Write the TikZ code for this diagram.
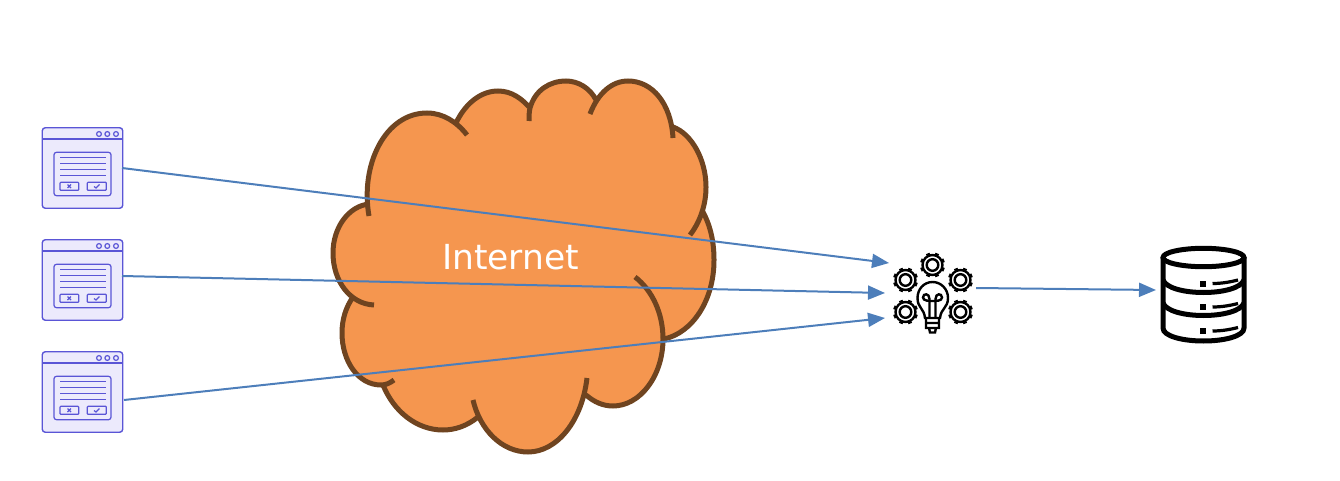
\documentclass[tikz,border=0pt]{standalone}
\usepackage{fontspec}
\setmainfont{DejaVu Sans}
\usetikzlibrary{arrows.meta,positioning,calc}
\definecolor{ink}{HTML}{000000}
\definecolor{cloudfill}{HTML}{F5964F}
\definecolor{cloudline}{HTML}{6F4420}
\definecolor{winfill}{HTML}{ECEAFC}
\definecolor{winline}{HTML}{5A55D6}
\definecolor{flow}{HTML}{4D7EBA}
% outline of the cloud, #1 joins the lobes (-- for the fill, empty for the stroke)
\newcommand{\cloudlobes}[1]{(369,216) .. controls (360,165) and (385,113) .. (427,113) .. controls (443,113) and (457,122) .. (467,135) #1
  (456,123) .. controls (466,102) and (482,91) .. (498,91) .. controls (512,91) and (522,99) .. (530,108) .. controls (529,112) and (529,117) .. (529,121) #1
  (530,108) .. controls (535,90) and (550,81) .. (566,81) .. controls (578,81) and (590,88) .. (596,100) #1
  (590,114) .. controls (598,93) and (612,81) .. (628,81) .. controls (652,81) and (671,103) .. (673,138) #1
  (673,127) .. controls (692,134) and (706,160) .. (706,187) .. controls (706,205) and (700,222) .. (690,235) #1
  (703,212) .. controls (711,227) and (714,243) .. (714,260) .. controls (714,301) and (692,333) .. (664,339) #1
  (635,277) .. controls (652,290) and (663,313) .. (663,339) .. controls (663,376) and (640,406) .. (613,406) .. controls (603,406) and (594,402) .. (586,395) #1
  (587,378) .. controls (582,421) and (557,452) .. (528,452) .. controls (502,452) and (480,430) .. (473,400) #1
  (478,417) .. controls (467,426) and (455,430) .. (443,430) .. controls (417,430) and (394,412) .. (383,385) #1
  (394,380) .. controls (390,383) and (386,385) .. (381,385) .. controls (358,385) and (342,361) .. (342,333) .. controls (342,319) and (346,307) .. (353,297) #1
  (374,305) .. controls (350,304) and (333,281) .. (333,253) .. controls (333,227) and (349,206) .. (369,204)}
\tikzset{cloudshape/.style={line width=5pt,draw=cloudline},
  winbox/.style={draw=winline,fill=winfill,line width=1.4pt,rounded corners=3pt,minimum size=80.5pt,inner sep=0pt},
  winpart/.style={draw=winline,line width=1.2pt},
  flowline/.style={draw=flow,line width=2pt,-{Triangle[length=17pt,width=14pt,fill=flow]}},
  iconline/.style={draw=ink,line width=2.4pt},
  dbline/.style={draw=ink,line width=5pt},
  formicon/.pic={
    \draw[winpart] (-40.3,-29) -- (40.3,-29);
    \foreach \cx in {16.5,24.8,33.5} \draw[winpart] (\cx,-34) circle (2.4);
    \draw[winpart,rounded corners=2.5pt] (-28.5,-15.7) rectangle (28.5,27.7);
    \foreach \ly in {-10.7,-4.7,1.7,7.7} \draw[winpart] (-22.5,\ly) -- (23.5,\ly);
    \draw[winpart,rounded corners=.8pt] (-22.5,14.3) rectangle (-3.8,22.3);
    \draw[winpart,rounded corners=.8pt] (4.8,14.3) rectangle (23.8,22.3);
    \draw[winpart] (-15,16.5) -- (-11.5,20) (-15,20) -- (-11.5,16.5);
    \draw[winpart] (11.5,18.5) -- (13.5,20) -- (17,16.5);
  },
  gearicon/.pic={
    \foreach \a in {0,45,...,315} \draw[ink,line width=3.8pt] (\a+22.5:9) -- (\a+22.5:12.5);
    \draw[iconline,fill=white] (0,0) circle (10);
    \draw[iconline] (0,0) circle (5.8);
  }}
\begin{document}
\begin{tikzpicture}[x=1pt,y=-1pt]
\useasboundingbox (0,0) rectangle (1340,481);
% cloud
\path[fill=cloudfill] \cloudlobes{--} -- cycle;
\draw[cloudshape] \cloudlobes{};
\node[text=white,font=\fontsize{34.5}{38}\selectfont] (internet) at (510.5,257) {Internet};
% clients
\node[winbox] (client1) at (82.5,168) {};
\node[winbox] (client2) at (82.5,280) {};
\node[winbox] (client3) at (82.5,392) {};
\pic at (client1) {formicon};
\pic at (client2) {formicon};
\pic at (client3) {formicon};
% analytics icon
\node[minimum size=82pt,inner sep=0pt] (ideas) at (933,293) {};
\pic at (932.5,265) {gearicon};
\pic at (905.5,280) {gearicon};
\pic at (960.5,280) {gearicon};
\pic at (905.5,312) {gearicon};
\pic at (960.5,312) {gearicon};
\draw[iconline,fill=white] (925,318) .. controls (924,308) and (917.5,308) .. (917.5,298) .. controls (917.5,289) and (924,282) .. (932.5,282) .. controls (941,282) and (948,289) .. (948,298) .. controls (948,308) and (941,308) .. (940,318) -- cycle;
\draw[iconline] (929.5,318) -- (929.5,299) .. controls (929.5,293) and (923,293) .. (923,297.5) .. controls (923,301) and (929.5,301) .. (932.5,301) .. controls (936,301) and (942,301) .. (942,297.5) .. controls (942,293) and (935.5,293) .. (935.5,299) -- (935.5,318);
\draw[iconline] (925,323) -- (940,323) (926,318) -- (926,328) -- (939,328) -- (939,318) (929,328) -- (930,332.5) -- (935,332.5) -- (936,328);
% database icon
\node[minimum width=88pt,minimum height=98pt,inner sep=0pt] (db) at (1203.5,295) {};
\draw[dbline] (1203.5,257.5) ellipse (40.5 and 9.2);
\draw[dbline] (1163,257.5) -- (1163,328) .. controls (1163,336) and (1182,341) .. (1203.5,341) .. controls (1225,341) and (1244,336) .. (1244,328) -- (1244,257.5);
\draw[dbline] (1163,280) .. controls (1166,288) and (1184,292.5) .. (1203.5,292.5) .. controls (1223,292.5) and (1241,288) .. (1244,280);
\draw[dbline] (1163,303) .. controls (1166,311) and (1184,315.5) .. (1203.5,315.5) .. controls (1223,315.5) and (1241,311) .. (1244,303);
\foreach \sy in {283.5,307,331} {
  \fill[ink] (1200.3,\sy-3) rectangle (1206.3,\sy+3);
  \draw[ink,line width=3.2pt] (1212.5,\sy) .. controls (1222,\sy) and (1230,\sy-1.5) .. (1238,\sy-3.5);
}
% connectors
\coordinate (out1) at (122,168);
\coordinate (out2) at (122,276);
\coordinate (out3) at (124,400);
\coordinate (in1) at (889,263);
\coordinate (in2) at (885,293);
\coordinate (in3) at (885,318);
\coordinate (ideasout) at (976,288);
\coordinate (dbin) at (1156,290);
\draw[flowline] (out1) -- (in1);
\draw[flowline] (out2) -- (in2);
\draw[flowline] (out3) -- (in3);
\draw[flowline] (ideasout) -- (dbin);
\end{tikzpicture}
\end{document}
